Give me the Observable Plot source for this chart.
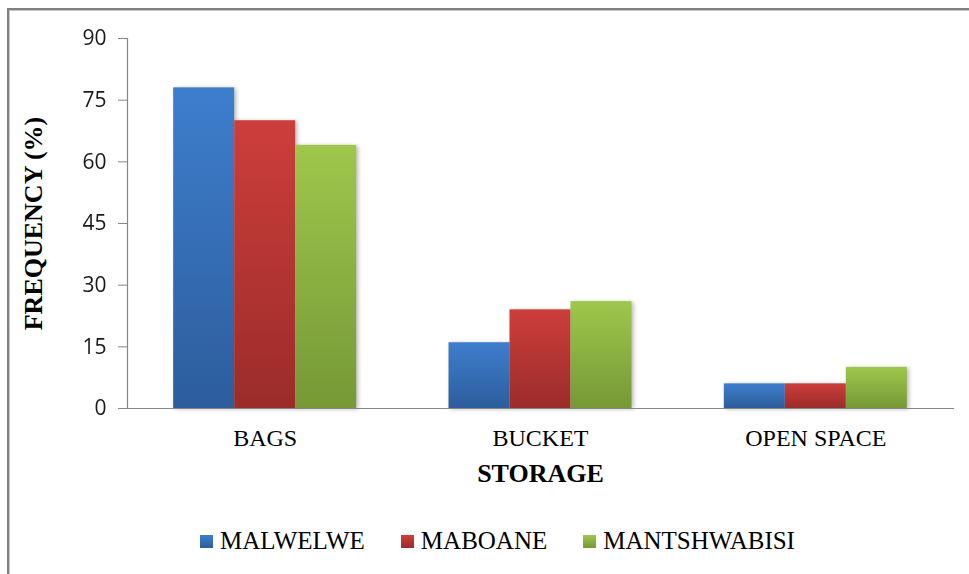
<!DOCTYPE html>
<html>
<head>
<meta charset="utf-8">
<script src="https://cdn.jsdelivr.net/npm/d3@7"></script>
<script src="https://cdn.jsdelivr.net/npm/@observablehq/plot@0.6"></script>
<style>
  html, body { margin: 0; padding: 0; background: #fff; }
  #chart { position: relative; width: 969px; height: 574px; overflow: hidden; background: #fff; }
  #border {
    position: absolute; left: 7px; top: 8px; width: 1000px; height: 600px;
    border-top: 2px solid #808080; border-left: 2px solid #808080;
    box-shadow: inset 1px 1px 0 #c6c6c6; pointer-events: none;
  }
  #plot { position: absolute; left: 0; top: 0; }
  #legend {
    position: absolute; left: 200px; top: 527px; display: flex; align-items: center;
    font-family: "Liberation Serif", "Times New Roman", serif; font-size: 25px; color: #000;
  }
  .item { display: flex; align-items: center; margin-right: 36px; }
  .swatch { width: 13px; height: 13px; margin-right: 7px; }
  g[aria-label="bar"] { filter: drop-shadow(2px 1px 2px rgba(0,0,0,0.28)); }
</style>
</head>
<body>
<div id="chart">
  <div id="plot"></div>
  <div id="legend"></div>
  <div id="border"></div>
</div>
<script>
// Storage categories and the share of households (%) for each village
const categories = ["BAGS", "BUCKET", "OPEN SPACE"];
const series = ["MALWELWE", "MABOANE", "MANTSHWABISI"];
const malwelwe = [78, 16, 6];
const maboane = [70, 24, 6];
const mantshwabisi = [64, 26, 10];
const yTicks = [0, 15, 30, 45, 60, 75, 90];

// Gradient colours per series (top → bottom)
const gradients = [
  ["#3e7ecd", "#2c5d9c"],
  ["#cd3e3b", "#9b2c2a"],
  ["#9ec74c", "#769836"]
];

const seriesValues = [malwelwe, maboane, mantshwabisi];
const rows = categories.flatMap((category, ci) =>
  series.map((name, si) => ({category, series: name, value: seriesValues[si][ci]}))
);

const axisGray = "#868686";

const svg = Plot.plot({
  width: 969,
  height: 500,
  marginLeft: 127,
  marginRight: 16,
  marginTop: 38,
  marginBottom: 92,
  style: {background: "transparent", overflow: "visible"},
  // category panels touch each other; the gap between bar groups comes from the inner x padding
  fx: {domain: categories, paddingInner: 0, paddingOuter: 0, round: false},
  x: {domain: series, axis: null, paddingInner: 0, paddingOuter: 0.757, round: false},
  y: {domain: [0, 90]},
  color: {domain: series, range: series.map((_, i) => `url(#bar-grad-${i})`)},
  marks: [
    Plot.barY(rows, {fx: "category", x: "series", y: "value", fill: "series"}),
    // baseline at 0 and the vertical axis line, spanning the whole plot area
    Plot.frame({anchor: "bottom", facet: "super", stroke: axisGray, strokeWidth: 1.2}),
    Plot.frame({anchor: "left", facet: "super", stroke: axisGray, strokeWidth: 1.2}),
    Plot.axisY({
      ticks: yTicks, tickSize: 9, tickPadding: 12, stroke: axisGray,
      fontSize: 21, fontFamily: "Open Sans", fill: "#1a1a1a",
      label: "FREQUENCY (%)", labelAnchor: "center", labelArrow: "none", labelOffset: 104
    }),
    Plot.axisFx({
      anchor: "bottom",
      tickSize: 0, tickPadding: 20, fontSize: 24, fontFamily: "Liberation Serif", fill: "#000",
      label: "STORAGE", labelAnchor: "center", labelArrow: "none", labelOffset: 73
    })
  ]
});

// Vertical gradients used by the bars
const defs = d3.select(svg).insert("defs", ":first-child");
gradients.forEach(([top, bottom], i) => {
  const g = defs.append("linearGradient")
    .attr("id", `bar-grad-${i}`).attr("x1", 0).attr("y1", 0).attr("x2", 0).attr("y2", 1);
  g.append("stop").attr("offset", "0%").attr("stop-color", top);
  g.append("stop").attr("offset", "100%").attr("stop-color", bottom);
});

// Axis titles in bold serif
d3.select(svg).selectAll('g[aria-label="y-axis label"] text, g[aria-label="fx-axis label"] text')
  .attr("font-family", "Liberation Serif")
  .attr("font-weight", "bold")
  .attr("font-size", 26)
  .attr("fill", "#000");

document.getElementById("plot").appendChild(svg);

// Legend row
const legend = d3.select("#legend");
series.forEach((name, i) => {
  const item = legend.append("div").attr("class", "item");
  item.append("div").attr("class", "swatch")
    .style("background", `linear-gradient(${gradients[i][0]}, ${gradients[i][1]})`);
  item.append("span").text(name);
});
</script>
</body>
</html>
